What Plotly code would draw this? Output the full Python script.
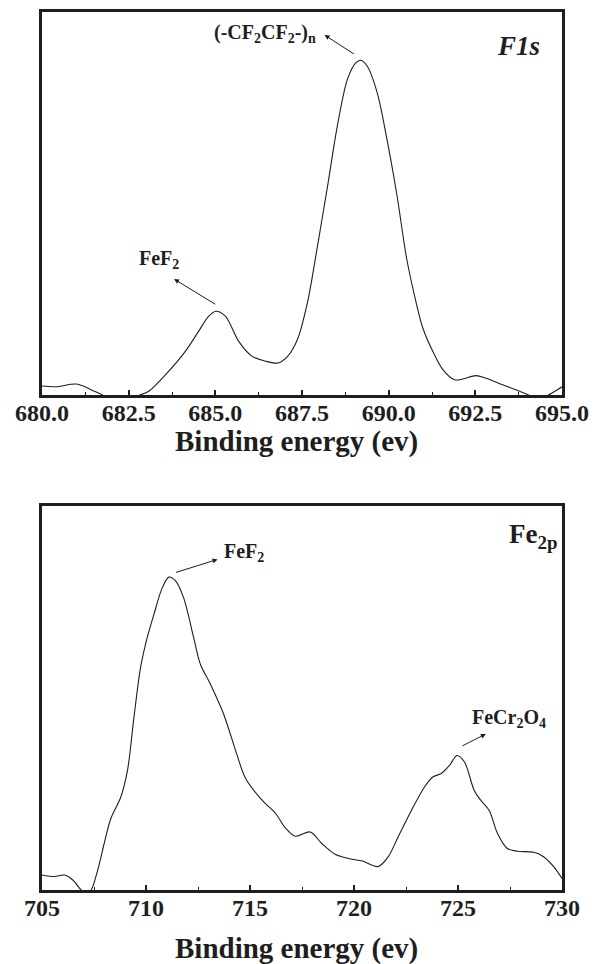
import plotly.graph_objects as go
from plotly.subplots import make_subplots

# F1s spectrum (binding energy eV, relative intensity %)
f1s_energy = [680.0, 680.4, 681.0, 681.4, 681.76, 682.0, 682.4, 682.81, 683.09, 683.57,
              684.14, 684.52, 684.81, 685.02, 685.29, 685.67, 686.05, 686.43, 686.81, 687.09,
              687.38, 687.66, 687.95, 688.24, 688.52, 688.81, 689.05, 689.19, 689.38, 689.67,
              689.95, 690.24, 690.52, 690.81, 690.99, 691.28, 691.57, 691.90, 692.14, 692.52,
              692.81, 693.29, 693.67, 694.05, 694.3, 694.6, 694.90, 695.0]
f1s_intensity = [2.4, 2.2, 2.9, 1.5, 0.0, -0.8, -1.2, 0.0, 1.1, 5.4,
                 11.5, 16.7, 20.6, 21.9, 20.6, 14.1, 10.2, 8.9, 8.4, 10.2,
                 14.8, 24.3, 39.1, 54.7, 70.3, 82.4, 86.7, 87.4, 85.9, 78.9,
                 66.8, 52.1, 35.6, 23.5, 17.4, 11.3, 6.6, 4.0, 4.2, 5.1,
                 4.4, 2.7, 1.4, 0.0, -0.8, 0.0, 1.6, 2.2]

# Fe2p spectrum
fe2p_energy = [705.0, 705.6, 706.08, 706.48, 706.88, 707.1, 707.36, 707.68, 707.99, 708.31,
               708.79, 709.11, 709.42, 709.74, 710.06, 710.38, 710.78, 711.10, 711.42, 711.81,
               712.29, 712.61, 713.09, 713.73, 714.36, 714.79, 715.59, 716.23, 716.71, 717.18,
               717.90, 718.45, 719.09, 719.89, 720.37, 721.16, 721.64, 722.12, 722.76, 723.39,
               723.79, 724.19, 724.59, 724.95, 725.31, 725.78, 726.10, 726.50, 726.90, 727.37,
               727.85, 728.65, 729.13, 729.61, 730.0]
fe2p_intensity = [3.9, 3.5, 3.9, 2.6, 0.0, -1.0, 0.0, 5.2, 12.1, 18.6,
                  24.2, 31.1, 44.9, 57.9, 65.7, 71.7, 78.6, 81.4, 80.4, 76.0,
                  65.7, 58.8, 53.6, 45.8, 35.4, 29.0, 23.3, 19.9, 16.1, 14.0,
                  15.1, 12.1, 9.3, 8.0, 7.6, 6.1, 8.6, 13.8, 20.7, 26.8,
                  29.4, 30.3, 32.4, 35.0, 33.3, 25.9, 23.3, 20.7, 14.7, 10.8,
                  10.1, 9.8, 8.6, 6.0, 3.0]

f1s_ticks = [680.0, 682.5, 685.0, 687.5, 690.0, 692.5, 695.0]
fe2p_ticks = [705, 710, 715, 720, 725, 730]

INK = "#1e1e1e"
SERIF = "Liberation Serif"

fig = make_subplots(rows=2, cols=1)

fig.add_trace(go.Scatter(x=f1s_energy, y=f1s_intensity, mode="lines",
                         line=dict(color=INK, width=1.1, shape="spline", smoothing=0.9),
                         showlegend=False), row=1, col=1)
fig.add_trace(go.Scatter(x=fe2p_energy, y=fe2p_intensity, mode="lines",
                         line=dict(color=INK, width=1.1, shape="spline", smoothing=0.9),
                         showlegend=False), row=2, col=1)

tickfont = dict(family=SERIF, size=24, color=INK, weight="bold")
common_x = dict(showline=True, mirror=True, linewidth=2.5, linecolor=INK,
                ticks="inside", ticklen=5, tickwidth=1.5, tickcolor=INK,
                showgrid=False, zeroline=False, tickfont=tickfont,
                ticklabelstandoff=-6)
common_y = dict(showline=True, mirror=True, linewidth=2.5, linecolor=INK,
                ticks="", showticklabels=False, showgrid=False, zeroline=False,
                range=[0, 100])

fig.update_xaxes(**common_x, range=[680, 695], tickvals=f1s_ticks,
                 ticktext=[f"<b>{v:.1f}</b>" for v in f1s_ticks],
                 minor=dict(dtick=1.25, tick0=680, ticks="inside", ticklen=3,
                            tickwidth=1.2, tickcolor=INK),
                 domain=[0, 1], row=1, col=1)
fig.update_xaxes(**common_x, range=[705, 730], tickvals=fe2p_ticks,
                 ticktext=[f"<b>{v}</b>" for v in fe2p_ticks],
                 minor=dict(dtick=2.5, tick0=705, ticks="inside", ticklen=3,
                            tickwidth=1.2, tickcolor=INK),
                 domain=[0, 1], row=2, col=1)
fig.update_yaxes(**common_y, domain=[0.5636, 1.0], row=1, col=1)
fig.update_yaxes(**common_y, domain=[0.0, 0.4378], row=2, col=1)

lab = dict(family=SERIF, size=20, color=INK, weight="bold")
annotations = [
    # top panel
    dict(x=688.15, y=94.0, ax=689.04, ay=88.8, xref="x", yref="y", axref="x", ayref="y",
         showarrow=True, arrowhead=2, arrowsize=1, arrowwidth=1, arrowcolor=INK, text=""),
    dict(x=686.44, y=94.5, xref="x", yref="y", showarrow=False,
         text="<b>(-CF<sub>2</sub>CF<sub>2</sub>-)<sub>n</sub></b>", font=lab,
         xanchor="center", yanchor="middle"),
    dict(x=683.81, y=30.3, ax=685.04, ay=23.5, xref="x", yref="y", axref="x", ayref="y",
         showarrow=True, arrowhead=2, arrowsize=1, arrowwidth=1, arrowcolor=INK, text=""),
    dict(x=683.38, y=35.3, xref="x", yref="y", showarrow=False,
         text="<b>FeF<sub>2</sub></b>", font=lab, xanchor="center", yanchor="middle"),
    dict(x=693.75, y=91.0, xref="x", yref="y", showarrow=False,
         text="<b><i>F1s</i></b>", font=dict(family=SERIF, size=27, color=INK, weight="bold"),
         xanchor="center", yanchor="middle"),
    # bottom panel
    dict(x=713.44, y=86.0, ax=711.37, ay=82.5, xref="x2", yref="y2", axref="x2", ayref="y2",
         showarrow=True, arrowhead=2, arrowsize=1, arrowwidth=1, arrowcolor=INK, text=""),
    dict(x=713.67, y=87.8, xref="x2", yref="y2", showarrow=False,
         text="<b>FeF<sub>2</sub></b>", font=lab, xanchor="left", yanchor="middle"),
    dict(x=727.37, y=92.0, xref="x2", yref="y2", showarrow=False,
         text="<b>Fe<sub>2p</sub></b>", font=dict(family=SERIF, size=27, color=INK, weight="bold"),
         xanchor="left", yanchor="middle"),
    dict(x=726.34, y=40.6, ax=725.14, ay=37.3, xref="x2", yref="y2", axref="x2", ayref="y2",
         showarrow=True, arrowhead=2, arrowsize=1, arrowwidth=1, arrowcolor=INK, text=""),
    dict(x=725.59, y=44.6, xref="x2", yref="y2", showarrow=False,
         text="<b>FeCr<sub>2</sub>O<sub>4</sub></b>", font=lab, xanchor="left", yanchor="middle"),
    # axis titles
    dict(x=0.49, y=0.511, xref="paper", yref="paper", showarrow=False,
         text="<b>Binding energy (ev)</b>", font=dict(family=SERIF, size=29, color=INK, weight="bold"),
         xanchor="center", yanchor="middle"),
    dict(x=0.49, y=-0.0665, xref="paper", yref="paper", showarrow=False,
         text="<b>Binding energy (ev)</b>", font=dict(family=SERIF, size=29, color=INK, weight="bold"),
         xanchor="center", yanchor="middle"),
]

fig.update_layout(width=598, height=964, margin=dict(l=42, r=33, t=9, b=74),
                  plot_bgcolor="white", paper_bgcolor="white",
                  annotations=annotations, showlegend=False)

fig.write_html("out.html")
